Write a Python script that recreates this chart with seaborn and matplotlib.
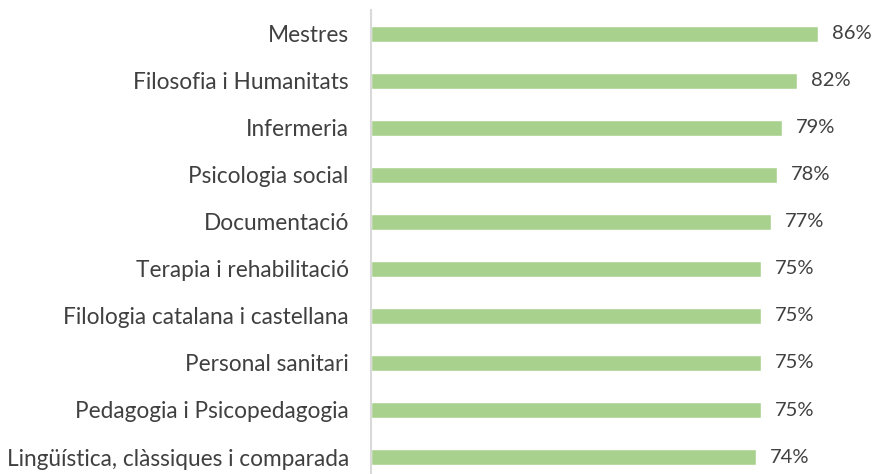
import pandas as pd
import numpy as np
import matplotlib.pyplot as plt
import seaborn as sns

categories = ["Mestres", "Filosofia i Humanitats", "Infermeria", "Psicologia social",
              "Documentació", "Terapia i rehabilitació", "Filologia catalana i castellana",
              "Personal sanitari", "Pedagogia i Psicopedagogia",
              "Lingüística, clàssiques i comparada"]
values = [86, 82, 79, 78, 77, 75, 75, 75, 75, 74]

sns.set_style("white")
plt.rcParams['font.family'] = ['Lato', 'DejaVu Sans']

df = pd.DataFrame({"categoria": categories, "valor": values})

fig = plt.figure(figsize=(8.77, 4.74), dpi=100)
ax = fig.add_axes([371 / 877, 0, 1 - 371 / 877, 1 - 10 / 474])
sns.barplot(data=df, y="categoria", x="valor", orient="h", color="#A9D18E",
            saturation=1, width=0.34, ax=ax)

for container in ax.containers:
    ax.bar_label(container, labels=[f"{v}%" for v in values], padding=10,
                 fontsize=14.5, color="#404040")

ax.set_xlim(0, 97.3)
ax.set_ylim(9.36, -0.5)
ax.set_xlabel("")
ax.set_ylabel("")
ax.set_xticks([])
ax.tick_params(axis="y", length=0, pad=16, labelsize=16.3, labelcolor="#404040")
for side in ["top", "right", "bottom"]:
    ax.spines[side].set_visible(False)
ax.spines["left"].set_color("#D9D9D9")
ax.spines["left"].set_linewidth(1.5)

plt.savefig("out.png", dpi=100)
